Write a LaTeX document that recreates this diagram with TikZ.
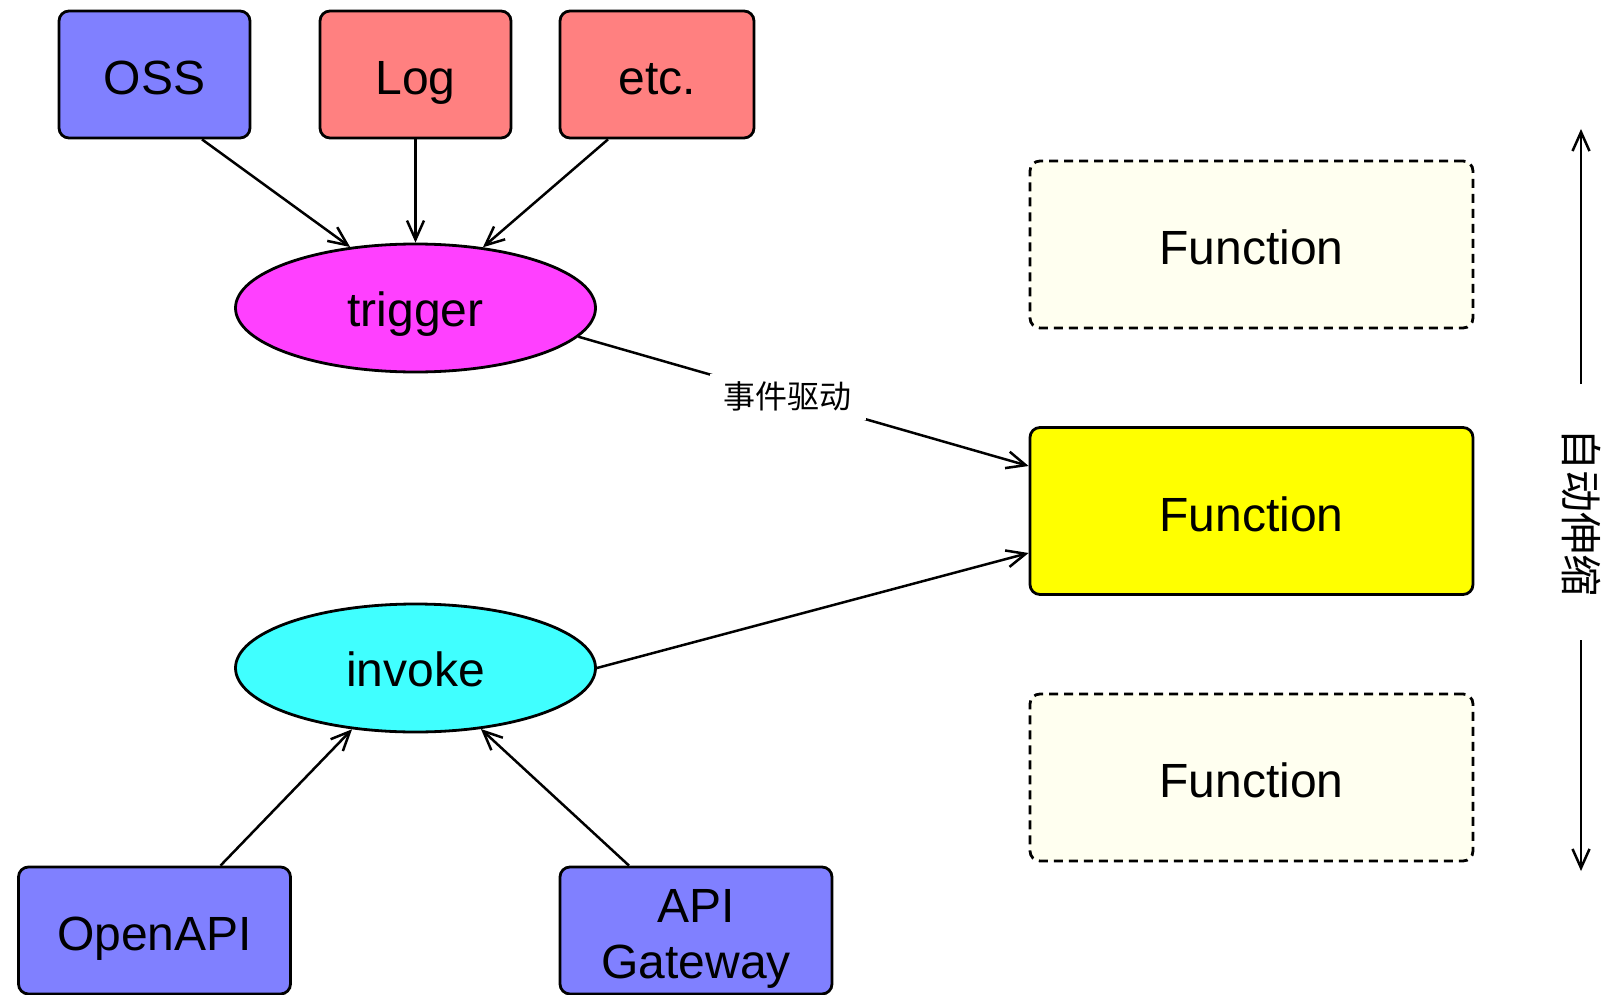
\documentclass[tikz,border=0pt]{standalone}
\usepackage{fontspec}
\setmainfont{Liberation Sans}
\newfontfamily\cjk{Noto Sans CJK SC}
\usetikzlibrary{shapes.geometric,arrows.meta}
\definecolor{cblue}{HTML}{8080FF}
\definecolor{cred}{HTML}{FF8080}
\definecolor{cmag}{HTML}{FF40FF}
\definecolor{ccyan}{HTML}{40FFFF}
\definecolor{cyel}{HTML}{FFFF00}
\definecolor{civory}{HTML}{FFFFF0}
\tikzset{
  box/.style={draw, line width=2.8pt, rounded corners=10pt, inner sep=0pt,
    font=\fontsize{48}{56}\selectfont, align=center, text height=40pt, text depth=0pt},
  srcbox/.style={box, minimum width=191pt, minimum height=127pt},
  apibox/.style={box, minimum width=272pt, minimum height=127pt, fill=cblue},
  fnbox/.style={box, minimum width=443pt, minimum height=167pt},
  ghost/.style={fnbox, dash pattern=on 9pt off 6pt, fill=civory},
  oval/.style={draw, ellipse, line width=2.8pt, inner sep=0pt,
    minimum width=360pt, minimum height=128pt, font=\fontsize{48}{56}\selectfont,
    text height=36pt, text depth=0pt},
  conn/.style={line width=2.5pt, -{Straight Barb[length=19pt,width=17pt,line width=2.5pt]}},
  edgelabel/.style={fill=white, inner sep=0pt, minimum width=156pt, minimum height=46pt,
    font=\cjk\fontsize{32}{36}\selectfont},
}
\begin{document}
\begin{tikzpicture}[x=1pt,y=-1pt]
\useasboundingbox (0,0) rectangle (1616,995);
% sources
\node[srcbox, fill=cblue] (oss) at (154.5,74.5) {OSS};
\node[srcbox, fill=cred] (log) at (415.5,74.5) {Log};
\node[srcbox, fill=cred, minimum width=194pt] (etc) at (657,74.5) {etc.};
% ellipses
\node[oval, fill=cmag] (trigger) at (415.5,308) {trigger};
\node[oval, fill=ccyan] (invoke) at (415.5,668) {invoke};
% bottom sources
\node[apibox] (openapi) at (154.5,930.5) {OpenAPI};
\node[apibox, text height=95pt] (apigw) at (696,930.5) {API\\Gateway};
% functions
\node[ghost] (ftop) at (1251.5,244.5) {Function};
\node[fnbox, fill=cyel] (fmid) at (1251.5,511) {Function};
\node[ghost] (fbot) at (1251.5,777.5) {Function};
% edges into trigger
\draw[conn] ([xshift=47.5pt]oss.south) -- (trigger.137);
\draw[conn] (log.south) -- (trigger.north);
\draw[conn] ([xshift=-49pt]etc.south) -- (trigger.42);
% edges into invoke
\draw[conn] ([xshift=66pt]openapi.north) -- (invoke.224);
\draw[conn] ([xshift=-67pt]apigw.north) -- (invoke.317);
% to function
\draw[conn] (trigger.350) -- node[pos=0.465, edgelabel] (lbl) {事件驱动} ([yshift=45pt]fmid.west);
\draw[conn] (invoke.east) -- ([yshift=-42pt]fmid.west);
% scaling
\node[rotate=-90, font=\cjk\fontsize{42}{46}\selectfont, inner sep=0pt] (scale) at (1581,512) {自动伸缩};
\coordinate (upA) at (1581,384);
\coordinate (upB) at (1581,129);
\coordinate (dnA) at (1581,640);
\coordinate (dnB) at (1581,871);
\draw[conn] (upA) -- (upB);
\draw[conn] (dnA) -- (dnB);
\end{tikzpicture}
\end{document}
